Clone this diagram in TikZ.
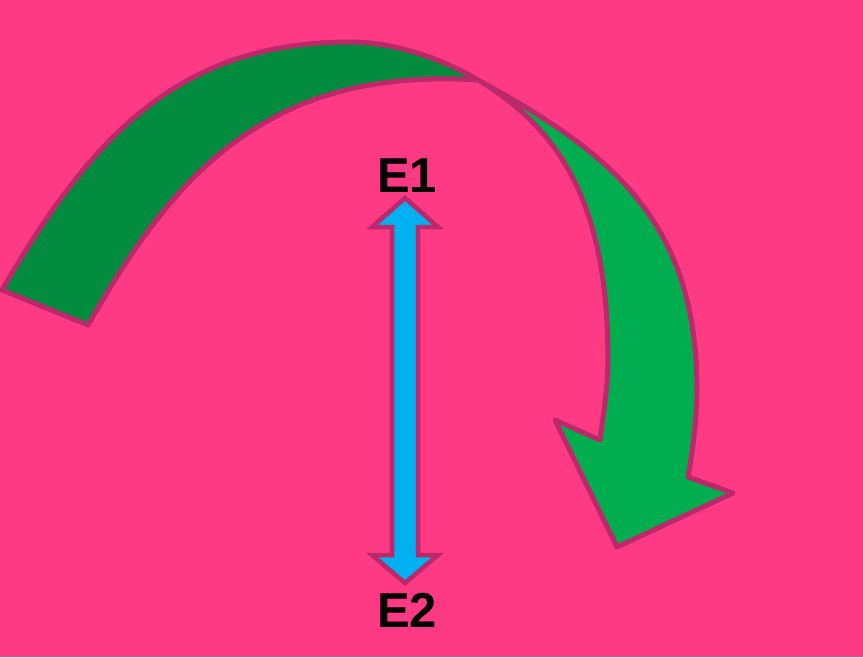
\documentclass[tikz,border=0pt]{standalone}
\usepackage{fontspec}
\setmainfont{Liberation Sans}
\definecolor{bgpink}{RGB}{255,58,133}
\definecolor{edge}{RGB}{189,40,106}
\definecolor{dkgreen}{RGB}{0,139,62}
\definecolor{ltgreen}{RGB}{0,174,80}
\definecolor{arrowblue}{RGB}{0,176,240}
\tikzset{
  band/.style={draw=edge, line width=5pt, line join=round},
  lbl/.style={font=\bfseries\fontsize{49}{49}\selectfont, text=black, inner sep=0pt}
}
\begin{document}
\begin{tikzpicture}[x=1pt,y=-1pt]
\fill[bgpink] (0,0) rectangle (863,657);
\useasboundingbox (0,0) rectangle (863,657);
% back (dark) part of the curved arrow
\coordinate (tailout) at (2,290);
\coordinate (tailin) at (88,325);
\coordinate (twist) at (478,80);
\path[band, fill=dkgreen]
  (tailout) .. controls (92,135) and (180,42) .. (350,42)
  .. controls (400,42) and (450,63) .. (twist)
  .. controls (418,76) and (355,82) .. (300,105)
  .. controls (199,148) and (143,230) .. (tailin)
  -- cycle;
% front (light) part with the arrow head
\coordinate (hr) at (733,493);
\coordinate (tip) at (617,547);
\coordinate (hl) at (555,420);
\coordinate (notch) at (600,440);
\path[band, fill=ltgreen]
  (twist) .. controls (610,152) and (697,220) .. (697,390)
  .. controls (697,420) and (692,455) .. (688,477)
  -- (hr) -- (tip) -- (hl) -- (notch)
  .. controls (604,410) and (608,385) .. (608,360)
  .. controls (608,210) and (564,131) .. (twist)
  -- cycle;
% labels
\node[lbl] (E1) at (407,176) {E1};
\node[lbl] (E2) at (407,610) {E2};
% blue double arrow
\coordinate (top) at (405,198);
\coordinate (bot) at (405,583);
\path[band, line width=4.5pt, line join=miter, fill=arrowblue]
  (top) -- ++(33,29) -- ++(-20,0) -- (418,555) -- ++(20,0) -- (bot)
  -- ++(-33,-28) -- ++(20,0) -- (392,227) -- ++(-20,0) -- cycle;
\end{tikzpicture}
\end{document}
